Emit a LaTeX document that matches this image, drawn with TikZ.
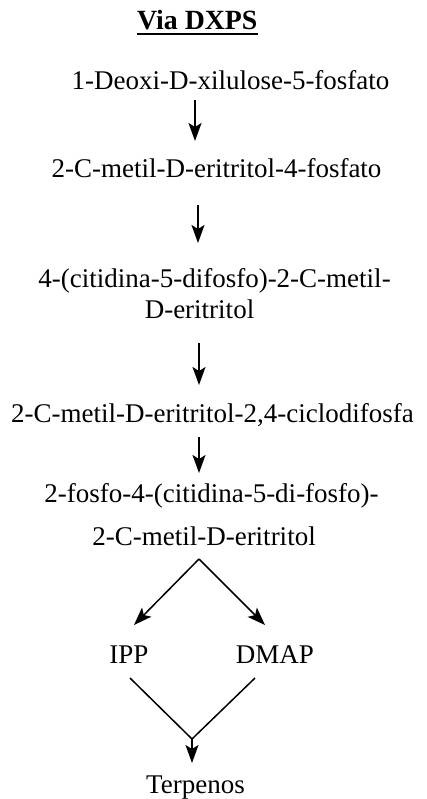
\documentclass[tikz,border=0pt]{standalone}
\usepackage{fontspec}
\setmainfont{Liberation Serif}
\usetikzlibrary{arrows.meta}
\begin{document}
\begin{tikzpicture}[x=1pt,y=-1pt,
  lbl/.style={inner sep=0pt,anchor=base,font=\fontsize{27}{32}\selectfont},
  ttl/.style={inner sep=0pt,anchor=base west,font=\fontsize{27.8}{32}\selectfont\bfseries},
  arr/.style={line width=1.5pt,-{Stealth[length=18pt,width=13pt,inset=4pt]}},
  ln/.style={line width=1.5pt}]
\useasboundingbox (0,0) rectangle (426,799);
\node[ttl] (t) at (137,30) {Via DXPS};
\draw[line width=2pt] ([yshift=-4.5pt]t.base west) -- ([yshift=-4.5pt]t.base east);
\node[lbl] (n1) at (230.5,90) {1-Deoxi-D-xilulose-5-fosfato};
\node[lbl] (n2) at (216.5,178) {2-C-metil-D-eritritol-4-fosfato};
\node[lbl] (n3a) at (214.5,287) {4-(citidina-5-difosfo)-2-C-metil-};
\node[lbl] (n3b) at (199.5,318) {D-eritritol};
\node[lbl] (n4) at (212.5,422) {2-C-metil-D-eritritol-2,4-ciclodifosfa};
\node[lbl] (n5a) at (211.5,502) {2-fosfo-4-(citidina-5-di-fosfo)-};
\node[lbl] (n5b) at (204,545) {2-C-metil-D-eritritol};
\node[lbl] (ipp) at (129,663) {IPP};
\node[lbl] (dmap) at (275,663) {DMAP};
\node[lbl] (ter) at (195.5,793) {Terpenos};
\coordinate (x1) at (195,0);
\coordinate (x2) at (198,0);
\coordinate (x3) at (199,0);
\draw[arr] ([yshift=-10pt]n1.base -| x1) -- ([yshift=37pt]n2.base -| x1);
\draw[arr] ([yshift=-27pt]n2.base -| x2) -- ([yshift=44pt]n3a.base -| x2);
\draw[arr] ([yshift=-25pt]n3b.base -| x3) -- ([yshift=37pt]n4.base -| x3);
\draw[arr] ([yshift=-15pt]n4.base -| x3) -- ([yshift=29pt]n5a.base -| x3);
\coordinate (apex) at (199,559);
\draw[arr] (apex) -- (134,625) coordinate (ipptip);
\draw[arr] (apex) -- (265,625) coordinate (dmaptip);
\coordinate (merge) at (192,739);
\draw[ln] ([xshift=1pt,yshift=-15pt]ipp.base) -- (merge);
\draw[ln] ([xshift=-20pt,yshift=-15pt]dmap.base) -- (merge);
\draw[arr] (merge) -- ([yshift=30pt]ter.base -| merge);
\end{tikzpicture}
\end{document}
